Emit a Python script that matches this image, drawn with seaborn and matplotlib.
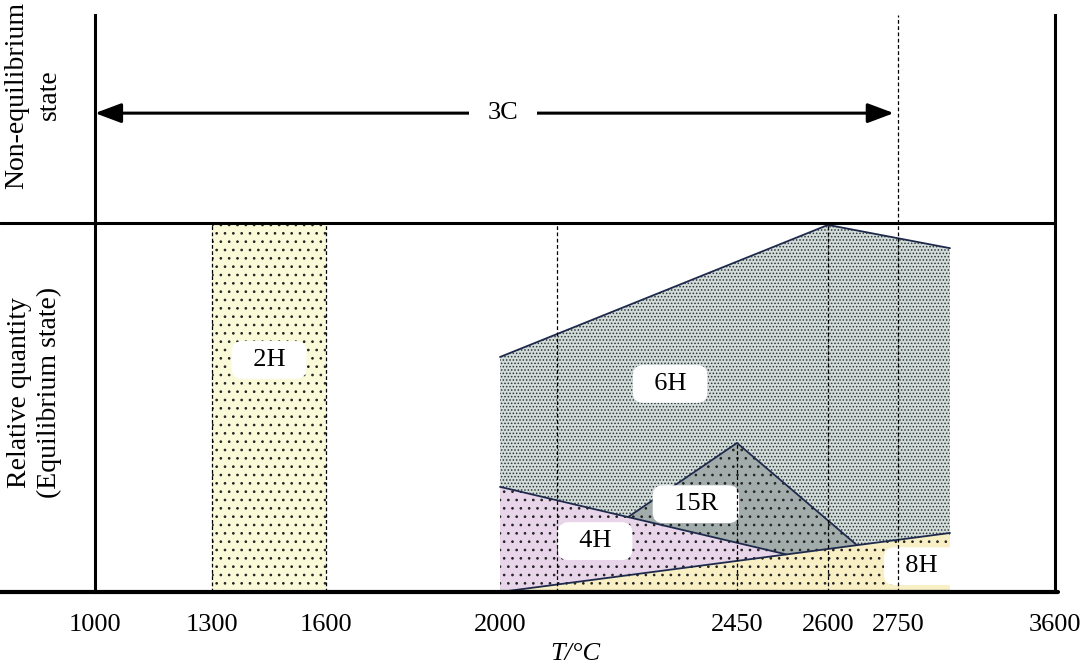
import numpy as np
import pandas as pd
import seaborn as sns
from matplotlib import pyplot as plt

# schematic temperature axis: temperatures and where they sit (px) along the axis
axis_temps = [1000, 1300, 1600, 2000, 2100, 2450, 2600, 2750, 2850, 3600]
axis_pos = [95, 212, 326, 500, 557, 737, 828, 898, 950, 1055]
tick_temps = [1000, 1300, 1600, 2000, 2450, 2600, 2750, 3600]

# phase regions (T in degC, relative quantity 0..1)
h2_span = [1300, 1600]
h6_t = [2000, 2600, 2850]
h6_q = [0.637, 0.995, 0.932]
h4_t = [2000, 2531, 2000]
h4_q = [0.285, 0.102, 0.0]
r15_t = [2238, 2450, 2662, 2531]
r15_q = [0.203, 0.404, 0.127, 0.102]
h8_t = [2000, 2850]
h8_q = [0.0, 0.16]

guide_t = [1300, 1600, 2100, 2450, 2600, 2750]
guide_top = [1.0, 1.0, 1.0, 0.404, 0.995, 1.564]

labels = ['2H', '6H', '15R', '4H', '8H']
label_t = [1450, 2320, 2370, 2174, 2795]
label_q = [0.629, 0.564, 0.238, 0.138, 0.07]

arrow_q = 1.298
y_top = 1.564

sns.set_theme(style='white')
plt.rcParams['font.family'] = ['Liberation Serif', 'DejaVu Serif']
plt.rcParams['hatch.linewidth'] = 0.7
plt.rcParams['text.color'] = 'black'
plt.rcParams['xtick.color'] = 'black'
plt.rcParams['axes.labelcolor'] = 'black'
fs = 19
navy = '#1e2a4c'

fig = plt.figure(figsize=(10.8, 6.67), dpi=100)
ax = fig.add_axes([95/1080, 75/667, 960/1080, 577/667])

fwd = lambda t: np.interp(t, axis_temps, axis_pos)
inv = lambda p: np.interp(p, axis_pos, axis_temps)
ax.set_xscale('function', functions=(fwd, inv))

# fills
ax.fill_between(h2_span, 0, 1, facecolor='#fafad9', edgecolor='#222222', hatch='..', lw=0, zorder=1)
ax.fill_between(h6_t, 0, h6_q, facecolor='#d2dcd9', edgecolor='#2e3436', hatch='.....', lw=0, zorder=1)
ax.fill(h4_t, h4_q, facecolor='#e8d5e9', edgecolor='#222222', hatch='..', lw=0, zorder=1.1)
ax.fill(r15_t, r15_q, facecolor='#a2acab', edgecolor='#222222', hatch='..', lw=0, zorder=1.1)
ax.fill_between(h8_t, 0, h8_q, facecolor='#f8efc4', edgecolor='#222222', hatch='..', lw=0, zorder=1.2)

# boundaries
bounds = pd.DataFrame({
    't': h6_t + h4_t[:2] + r15_t[:3] + h8_t,
    'q': h6_q + h4_q[:2] + r15_q[:3] + h8_q,
    'phase': ['6H'] * 3 + ['4H'] * 2 + ['15R'] * 3 + ['8H'] * 2,
})
sns.lineplot(data=bounds, x='t', y='q', units='phase', estimator=None, color=navy,
             lw=1.3, sort=False, ax=ax, zorder=2)
ax.plot([2000, 2850], [0.004, 0.004], color=navy, lw=1.5, zorder=2)

# labels
for s, t, q in zip(labels, label_t, label_q):
    ax.text(t, q, '  ' + s + '  ', fontsize=fs, ha='center', va='center', zorder=3,
            bbox=dict(boxstyle='round,pad=0.3,rounding_size=0.4', fc='white', ec='none'))

# dashed guides
for t, top in zip(guide_t, guide_top):
    ax.plot([t, t], [0, top], color='black', lw=0.9, ls=(0, (3, 2)), zorder=4)

# frame lines
ax.plot([-95/960, 1.0], [1, 1], color='black', lw=2.2, transform=ax.get_yaxis_transform(),
        clip_on=False, zorder=5)
ax.plot([-95/960, 1.003], [0, 0], color='black', lw=3.0, transform=ax.get_yaxis_transform(),
        clip_on=False, zorder=5)
for sp in ['top', 'bottom']:
    ax.spines[sp].set_visible(False)
for sp in ['left', 'right']:
    ax.spines[sp].set_linewidth(2.2)
    ax.spines[sp].set_color('black')
    ax.spines[sp].set_zorder(5)

# 3C arrow
ax.annotate('', xy=(1000, arrow_q), xytext=(2750, arrow_q),
            arrowprops=dict(arrowstyle='<|-|>,head_length=0.8,head_width=0.3', lw=2.2,
                            color='black', shrinkA=3, shrinkB=0, mutation_scale=20), zorder=5)
ax.text(2005, arrow_q, '3C', fontsize=fs, ha='center', va='center', zorder=6,
        bbox=dict(boxstyle='square,pad=0.7', fc='white', ec='none'))

ax.set_xlim(1000, 3600)
ax.set_ylim(0, y_top)
ax.set_xticks(tick_temps)
ax.set_xticklabels([str(t) for t in tick_temps], fontsize=fs)
ax.xaxis.set_minor_locator(plt.NullLocator())
ax.set_yticks([])
ax.tick_params(axis='x', length=0, pad=16)
ax.set_xlabel('T/°C', fontsize=fs, fontstyle='italic', labelpad=5)
ax.set_ylabel('')

ax.text(-0.063, 0.54, 'Relative quantity\n(Equilibrium state)', fontsize=20, rotation=90,
        ha='center', va='center', linespacing=1.3, transform=ax.get_yaxis_transform())
ax.text(-0.065, 1.347, 'Non-equilibrium\nstate', fontsize=20, rotation=90,
        ha='center', va='center', linespacing=1.4, transform=ax.get_yaxis_transform())

fig.savefig('out.png', dpi=100)
